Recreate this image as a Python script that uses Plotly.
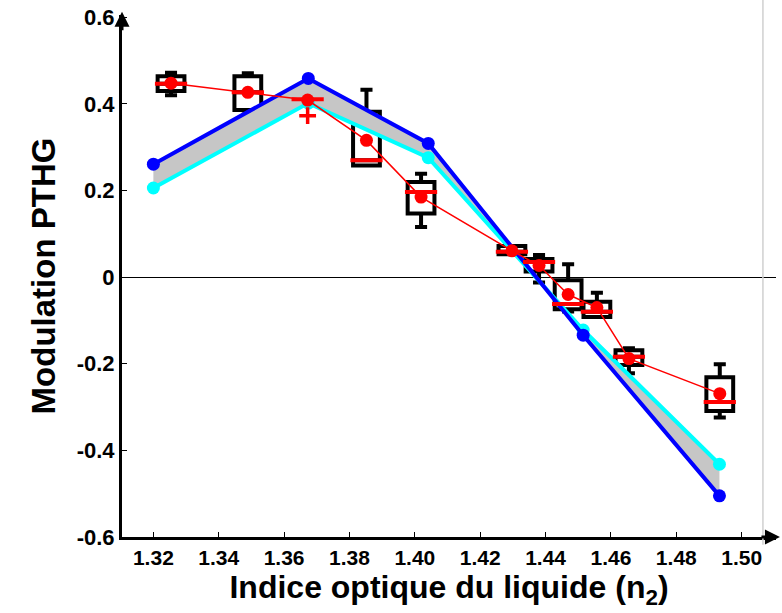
import plotly.graph_objects as go

# model curves (blue / cyan) on the liquid index axis
model_x = [1.32, 1.3674, 1.4041, 1.4515, 1.4932]
model_blue = [0.261, 0.459, 0.309, -0.134, -0.505]
model_cyan = [0.206, 0.402, 0.276, -0.122, -0.432]

# measured distributions (box stats) + means
box_x = [1.3254, 1.3489, 1.3672, 1.3852, 1.4019, 1.4297, 1.4380, 1.4469, 1.4557, 1.4655, 1.4933]
box_upper = [0.472, 0.471, 0.418, 0.433, 0.239, 0.072, 0.051, 0.030, -0.036, -0.164, -0.201]
box_q3 = [0.464, 0.464, 0.418, 0.382, 0.220, 0.072, 0.042, -0.007, -0.057, -0.169, -0.231]
box_median = [0.447, 0.427, 0.411, 0.270, 0.197, 0.059, 0.035, -0.062, -0.080, -0.184, -0.288]
box_q1 = [0.430, 0.386, 0.403, 0.258, 0.147, 0.053, 0.013, -0.074, -0.092, -0.203, -0.309]
box_lower = [0.420, 0.376, 0.403, 0.258, 0.116, 0.053, -0.012, -0.079, -0.092, -0.222, -0.324]
box_mean = [0.448, 0.427, 0.409, 0.316, 0.185, 0.061, 0.027, -0.040, -0.070, -0.188, -0.269]

outlier_x = [1.3672]
outlier_y = [0.373]

x_ticks = [1.32, 1.34, 1.36, 1.38, 1.40, 1.42, 1.44, 1.46, 1.48, 1.50]
x_ticktext = ["1.32", "1.34", "1.36", "1.38", "1.40", "1.42", "1.44", "1.46", "1.48", "1.50"]
y_ticks = [-0.6, -0.4, -0.2, 0, 0.2, 0.4, 0.6]
y_ticktext = ["-0.6", "-0.4", "-0.2", "0", "0.2", "0.4", "0.6"]

FONT = "Liberation Sans, Arial, sans-serif"

fig = go.Figure()

# gray band between the two model curves
fig.add_trace(go.Scatter(x=model_x, y=model_blue, mode='lines', line=dict(width=0),
                         showlegend=False, hoverinfo='skip'))
fig.add_trace(go.Scatter(x=model_x, y=model_cyan, mode='lines', line=dict(width=0),
                         fill='tonexty', fillcolor='#c6c6c6', showlegend=False, hoverinfo='skip'))

fig.add_trace(go.Scatter(x=model_x, y=model_cyan, mode='lines+markers',
                         line=dict(color='#00ffff', width=4), marker=dict(color='#00ffff', size=13),
                         showlegend=False))
fig.add_trace(go.Scatter(x=model_x, y=model_blue, mode='lines+markers',
                         line=dict(color='#0000ff', width=4), marker=dict(color='#0000ff', size=13),
                         showlegend=False))

fig.add_trace(go.Box(x=box_x, q1=box_q1, median=box_median, q3=box_q3,
                     lowerfence=box_lower, upperfence=box_upper,
                     width=0.0082, whiskerwidth=0.45, boxpoints=False,
                     fillcolor='white', line=dict(color='black', width=4),
                     showlegend=False))

# red medians
fig.add_trace(go.Scatter(x=box_x, y=box_median, mode='markers',
                         marker=dict(symbol='line-ew', size=23, line=dict(color='red', width=4)),
                         showlegend=False))
# red means
fig.add_trace(go.Scatter(x=box_x, y=box_mean, mode='lines+markers',
                         line=dict(color='red', width=1.5), marker=dict(color='red', size=13),
                         showlegend=False))
fig.add_trace(go.Scatter(x=outlier_x, y=outlier_y, mode='markers',
                         marker=dict(symbol='cross-thin', size=12, line=dict(color='red', width=3.5)),
                         showlegend=False))

fig.update_layout(
    width=782, height=613,
    margin=dict(l=122, r=6, t=15, b=76),
    plot_bgcolor='white', paper_bgcolor='white',
    boxmode='overlay',
    font=dict(family=FONT, color='black'),
    xaxis=dict(range=[1.3104, 1.5105], showgrid=False, zeroline=False, automargin=False,
               showline=True, linecolor='black', linewidth=3,
               tickvals=x_ticks, ticktext=x_ticktext, ticks='inside', ticklen=5, tickcolor='black',
               tickfont=dict(size=21, weight='bold'),
               title=dict(text='Indice optique du liquide (n<sub>2</sub>)',
                          font=dict(size=32, weight='bold'), standoff=0)),
    yaxis=dict(range=[-0.6, 0.6055], showgrid=False, automargin=False,
               zeroline=True, zerolinecolor='black', zerolinewidth=1,
               showline=True, linecolor='black', linewidth=3,
               tickvals=y_ticks, ticktext=y_ticktext, ticks='inside', ticklen=5, tickcolor='black',
               tickfont=dict(size=22, weight='bold'),
               title=dict(text='Modulation PTHG', font=dict(size=33, weight='bold'), standoff=12)),
)

# axis arrowheads
fig.add_annotation(xref='paper', yref='paper', x=0, y=1.006, ax=0, ay=20, text='',
                   showarrow=True, arrowhead=2, arrowsize=1, arrowwidth=3, arrowcolor='black')
fig.add_annotation(xref='paper', yref='paper', x=1.006, y=0, ax=-20, ay=0, text='',
                   showarrow=True, arrowhead=2, arrowsize=1, arrowwidth=3, arrowcolor='black')

# light frame edge on the right
fig.add_shape(type='line', xref='paper', yref='paper', x0=0.980, x1=0.980, y0=-0.015, y1=1.03,
              line=dict(color='#d0d0d0', width=1.5))

# drop the page's default body margin so the figure sits at the window corner
fig.write_html("out.html", config={'displayModeBar': False},
               post_script="document.body.style.margin='0';")
